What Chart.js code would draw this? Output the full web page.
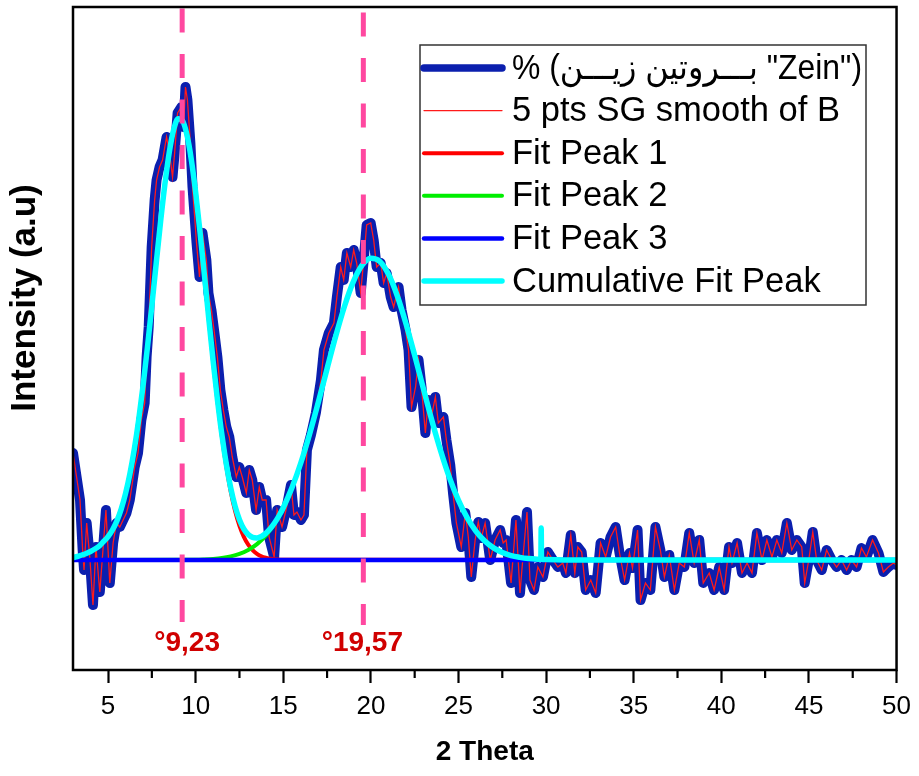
<!DOCTYPE html>
<html>
<head>
<meta charset="utf-8">
<script src="https://cdn.jsdelivr.net/npm/chart.js@4.4.1/dist/chart.umd.min.js"></script>
<style>
  html, body { margin: 0; padding: 0; background: #ffffff; }
  #wrap { width: 919px; height: 776px; }
</style>
</head>
<body>
<div id="wrap"><canvas id="xrd" width="919" height="776"></canvas></div>
<script>
// Measured diffraction pattern (2θ in degrees, intensity in arbitrary units)
const twoTheta = [
  3.00, 3.40, 3.55, 3.63, 3.78, 3.97, 4.14, 4.31, 4.53, 4.88,
  5.10, 5.29, 5.48, 5.67, 5.86, 6.05, 6.24, 6.52, 6.71, 6.90,
  7.09, 7.20, 7.32, 7.49, 7.66, 7.77, 7.94, 8.11, 8.34, 8.51,
  8.68, 8.80, 8.97, 9.19, 9.31, 9.42, 9.53, 9.70, 9.82, 10.05,
  10.22, 10.39, 10.61, 10.73, 10.90, 11.07, 11.24, 11.41, 11.58, 11.75,
  11.92, 12.09, 12.32, 12.49, 12.66, 12.89, 13.06, 13.23, 13.45, 13.63,
  13.80, 14.02, 14.19, 14.48, 14.65, 14.93, 15.22, 15.44, 15.61, 15.78,
  16.01, 16.18, 16.35, 16.58, 16.86, 17.15, 17.32, 17.60, 17.89, 18.06,
  18.28, 18.45, 18.63, 18.85, 19.02, 19.19, 19.42, 19.59, 19.76, 19.99,
  20.16, 20.33, 20.56, 20.73, 20.90, 21.13, 21.30, 21.58, 21.75, 21.98,
  22.15, 22.32, 22.55, 22.72, 22.89, 23.11, 23.28, 23.45, 23.68, 23.85,
  24.14, 24.31, 24.53, 24.70, 24.88, 25.16, 25.39, 25.56, 25.73, 25.95,
  26.13, 26.30, 26.52, 26.81, 27.09, 27.38, 27.55, 27.72, 28.00, 28.28,
  28.51, 28.68, 28.91, 29.08, 29.31, 29.53, 29.82, 30.10, 30.39, 30.67,
  30.95, 31.13, 31.41, 31.64, 31.81, 32.03, 32.26, 32.55, 32.83, 33.11,
  33.40, 33.68, 33.97, 34.19, 34.48, 34.76, 34.93, 35.22, 35.39, 35.67,
  35.95, 36.24, 36.52, 36.75, 37.03, 37.32, 37.60, 37.89, 38.17, 38.45,
  38.74, 38.97, 39.31, 39.59, 39.88, 40.16, 40.44, 40.61, 40.90, 41.18,
  41.47, 41.75, 42.03, 42.32, 42.60, 42.89, 43.17, 43.45, 43.74, 44.02,
  44.31, 44.59, 44.76, 44.99, 45.22, 45.44, 45.73, 46.01, 46.30, 46.58,
  46.86, 47.15, 47.43, 47.72, 48.00, 48.28, 48.63, 48.97, 49.25, 49.53,
  49.82, 50.00
];
const intensity = [
  107, 60, 10, -10, 37, 0, -45, 13, -32, 50,
  -23, 17, 37, 33, 40, 47, 60, 93, 107, 140,
  157, 203, 233, 313, 360, 380, 393, 400, 423, 407,
  383, 407, 447, 453, 433, 473, 460, 417, 373, 317,
  283, 327, 300, 267, 250, 227, 203, 170, 150, 133,
  123, 103, 83, 93, 83, 67, 90, 80, 50, 73,
  60, 60, 23, 3, 50, 33, 55, 75, 45, 48,
  40, 45, 110, 125, 147, 180, 210, 227, 237, 263,
  293, 280, 307, 293, 310, 297, 267, 300, 335, 337,
  320, 293, 297, 277, 287, 263, 253, 273, 250, 230,
  210, 153, 173, 200, 173, 127, 160, 143, 163, 137,
  143, 120, 95, 65, 37, 13, 47, 23, -17, 20,
  38, 22, 37, 0, 20, 30, 17, 20, -23, 40,
  -33, 3, 48, -20, -30, -7, -17, 8, 0, -7,
  -3, -13, 25, -13, 13, 8, -30, -20, -33, 17,
  3, 23, 33, 7, -20, 7, -8, 30, -40, -23,
  -30, 33, 10, -17, 5, -30, -3, -7, 27, -3,
  20, -23, -13, -30, -7, -30, 13, -3, 17, -13,
  -3, -13, 27, 0, 20, 3, 20, 7, 37, 10,
  20, 13, -23, 0, 28, 0, -10, 10, 0, -7,
  0, -10, 0, -7, 12, 3, 20, 7, -12, -7,
  -3, -5
];

// Fitted component 1
const peak1Theta = [
  3.00, 3.25, 3.50, 3.75, 4.00, 4.25, 4.50, 4.75, 5.00, 5.25,
  5.50, 5.75, 6.00, 6.25, 6.50, 6.75, 7.00, 7.25, 7.50, 7.75,
  8.00, 8.25, 8.50, 8.75, 9.00, 9.25, 9.50, 9.75, 10.00, 10.25,
  10.50, 10.75, 11.00, 11.25, 11.50, 11.75, 12.00, 12.25, 12.50, 12.75,
  13.00, 13.25, 13.50, 13.75, 14.00, 14.25, 14.50, 14.75, 15.00, 50.00
];
const peak1Values = [
  2.5, 3.5, 5, 6.5, 8.5, 11, 14, 18.6, 23.4, 30,
  38.9, 50.9, 66.6, 86.4, 111, 140.4, 174.6, 213, 254.3, 296.9,
  338.6, 376.7, 408.4, 430.7, 441.3, 439.2, 425.3, 400.7, 367.3, 327.6,
  284.3, 240.2, 197.4, 157.8, 122.8, 93, 68.5, 49.1, 34.2, 23.2,
  15.4, 9.9, 6.2, 3.7, 2.2, 1.3, 0.7, 0.4, 0.2, 0
];

// Fitted component 2
const peak2Theta = [
  3.0, 10.0, 10.5, 11.0, 11.5, 12.0, 12.5, 13.0, 13.5, 14.0,
  14.5, 15.0, 15.5, 16.0, 16.5, 17.0, 17.5, 18.0, 18.5, 19.0,
  19.5, 20.0, 20.5, 21.0, 21.5, 22.0, 22.5, 23.0, 23.5, 24.0,
  24.5, 25.0, 25.5, 26.0, 26.5, 27.0, 27.5, 28.0, 28.5, 29.0,
  29.5, 30.0, 31.0, 32.0, 50.0
];
const peak2Values = [
  0, 0.3, 0.6, 1.1, 2.0, 3.6, 6.1, 10.0, 15.9, 24.4,
  36.3, 52.1, 72.3, 97.0, 125.8, 157.7, 191.3, 224.2, 254.0, 278.3,
  294.8, 301.8, 298.8, 285.9, 264.5, 236.6, 204.6, 171.1, 138.3, 108.1,
  81.6, 59.6, 42.1, 28.7, 19.0, 12.1, 7.5, 4.4, 2.6, 1.4,
  0.8, 0.4, 0.1, 0, 0
];

// Fitted component 3 (flat)
const peak3Theta = [3, 50];
const peak3Values = [0, 0];

// Cumulative fit
const cumulativeTheta = [
  3.00, 3.25, 3.50, 3.75, 4.00, 4.25, 4.50, 4.75, 5.00, 5.25,
  5.50, 5.75, 6.00, 6.25, 6.50, 6.75, 7.00, 7.25, 7.50, 7.75,
  8.00, 8.25, 8.50, 8.75, 9.00, 9.25, 9.50, 9.75, 10.00, 10.25,
  10.50, 10.75, 11.00, 11.25, 11.50, 11.75, 12.00, 12.25, 12.50, 12.75,
  13.00, 13.25, 13.50, 13.75, 14.00, 14.25, 14.50, 14.75, 15.00, 15.5,
  16.0, 16.5, 17.0, 17.5, 18.0, 18.5, 19.0, 19.5, 20.0, 20.5,
  21.0, 21.5, 22.0, 22.5, 23.0, 23.5, 24.0, 24.5, 25.0, 25.5,
  26.0, 26.5, 27.0, 27.5, 28.0, 28.5, 29.0, 29.5, 29.70, 29.72,
  29.74, 30.0, 31.0, 32.0, 50.0
];
const cumulativeValues = [
  2.5, 3.5, 5, 6.5, 8.5, 11, 14, 18.6, 23.4, 30,
  38.9, 50.9, 66.6, 86.4, 111, 140.4, 174.6, 213, 254.3, 296.9,
  338.6, 376.7, 408.4, 430.7, 441.3, 439.2, 425.3, 400.7, 367.6, 328,
  284.9, 241, 198.5, 159.3, 124.8, 95.7, 72.1, 53.8, 40.3, 31,
  25.4, 22.6, 22.1, 23.5, 26.6, 31.2, 37, 44, 52.3, 72.4,
  97, 125.8, 157.7, 191.3, 224.2, 254, 278.3, 294.8, 301.8, 298.8,
  285.9, 264.5, 236.6, 204.6, 171.1, 138.3, 108.1, 81.6, 59.6, 42.1,
  28.7, 19, 12.1, 7.5, 4.4, 2.6, 1.4, 0.8, 0.7, 32,
  0.7, 0.4, 0.1, 0, 0
];

// Axis and annotation text
const xTicks = [5, 10, 15, 20, 25, 30, 35, 40, 45, 50];
const xMinorTicks = [7.5, 12.5, 17.5, 22.5, 27.5, 32.5, 37.5, 42.5, 47.5];
const peakPositions = [9.23, 19.57];
const peakLabels = ['°9,23', '°19,57'];
const seriesLabels = [
  '% (بـــروتين زيـــن "Zein")',
  '5 pts SG smooth of B',
  'Fit Peak 1',
  'Fit Peak 2',
  'Fit Peak 3',
  'Cumulative Fit Peak'
];
const xTitle = '2 Theta';
const yTitle = 'Intensity (a.u)';

const FONT = '"Liberation Sans", Arial, Helvetica, "DejaVu Sans", sans-serif';
const toPoints = (xs, ys) => xs.map((x, i) => ({ x: x, y: ys[i] }));

// Frame, minor ticks, peak labels, legend box and vertical axis title
const decorations = {
  id: 'decorations',
  afterDatasetsDraw(chart) {
    const { ctx, chartArea: a, scales: { x } } = chart;
    ctx.save();

    ctx.strokeStyle = '#000';
    ctx.lineWidth = 2.2;
    xMinorTicks.forEach(v => {
      const px = x.getPixelForValue(v);
      ctx.beginPath();
      ctx.moveTo(px, a.bottom);
      ctx.lineTo(px, a.bottom + 8);
      ctx.stroke();
    });

    ctx.lineWidth = 2.5;
    ctx.strokeRect(a.left, a.top, a.right - a.left, a.bottom - a.top);

    ctx.fillStyle = '#d00000';
    ctx.font = 'bold 28px ' + FONT;
    ctx.textAlign = 'center';
    ctx.textBaseline = 'middle';
    const labelNudge = [5, -1];
    peakPositions.forEach((p, i) => {
      ctx.fillText(peakLabels[i], x.getPixelForValue(p) + labelNudge[i], a.bottom - 27);
    });

    // legend
    const box = { left: 420, top: 45, width: 446, height: 260 };
    ctx.fillStyle = '#ffffff';
    ctx.fillRect(box.left, box.top, box.width, box.height);
    ctx.strokeStyle = '#333333';
    ctx.lineWidth = 1.5;
    ctx.strokeRect(box.left, box.top, box.width, box.height);
    ctx.font = '34.5px ' + FONT;
    ctx.textAlign = 'left';
    ctx.textBaseline = 'middle';
    ctx.direction = 'ltr';
    for (let i = 0; i < seriesLabels.length; i++) {
      const ds = chart.data.datasets[i];
      const rowY = 68 + i * 42.6;
      ctx.strokeStyle = ds.borderColor;
      ctx.lineWidth = ds.legendWidth || ds.borderWidth;
      ctx.lineCap = 'round';
      ctx.beginPath();
      ctx.moveTo(424, rowY);
      ctx.lineTo(502, rowY);
      ctx.stroke();
      ctx.fillStyle = '#000';
      ctx.fillText(ds.label, 512, rowY + 1, 350);
    }

    ctx.translate(25, 298);
    ctx.rotate(-Math.PI / 2);
    ctx.font = 'bold 35px ' + FONT;
    ctx.fillStyle = '#000';
    ctx.textAlign = 'center';
    ctx.textBaseline = 'middle';
    ctx.fillText(yTitle, 0, 0);
    ctx.restore();
  }
};

const markerLine = (pos, top, bottom) => ({
  label: '',
  data: [{ x: pos, y: top }, { x: pos, y: bottom }],
  borderColor: '#ff48a0',
  borderWidth: 5,
  borderDash: [24, 21.5],
  borderCapStyle: 'butt',
  order: 1
});

new Chart(document.getElementById('xrd'), {
  type: 'line',
  data: {
    datasets: [
      {
        label: seriesLabels[0],
        data: toPoints(twoTheta, intensity),
        borderColor: '#0b1fae',
        borderWidth: 10,
        legendWidth: 7.5,
        borderJoinStyle: 'round',
        borderCapStyle: 'round',
        tension: 0,
        order: 8
      },
      {
        label: seriesLabels[1],
        data: toPoints(twoTheta, intensity),
        borderColor: '#ff1a1a',
        borderWidth: 1.3,
        tension: 0,
        order: 7
      },
      {
        label: seriesLabels[2],
        data: toPoints(peak1Theta, peak1Values),
        borderColor: '#ff0000',
        borderWidth: 4,
        cubicInterpolationMode: 'monotone',
        order: 6
      },
      {
        label: seriesLabels[3],
        data: toPoints(peak2Theta, peak2Values),
        borderColor: '#00ee00',
        borderWidth: 4,
        cubicInterpolationMode: 'monotone',
        order: 5
      },
      {
        label: seriesLabels[4],
        data: toPoints(peak3Theta, peak3Values),
        borderColor: '#0000ff',
        borderWidth: 4.5,
        order: 4
      },
      {
        label: seriesLabels[5],
        data: toPoints(cumulativeTheta, cumulativeValues),
        borderColor: '#00ffff',
        borderWidth: 5.5,
        cubicInterpolationMode: 'monotone',
        order: 3
      },
      markerLine(peakPositions[0], 551.5, -62),
      markerLine(peakPositions[1], 547.5, -65)
    ]
  },
  options: {
    responsive: false,
    devicePixelRatio: 1,
    animation: false,
    events: [],
    layout: { padding: { top: 7, right: 19, left: 73, bottom: 0 } },
    elements: { point: { radius: 0, hoverRadius: 0 } },
    plugins: { legend: { display: false }, tooltip: { enabled: false } },
    scales: {
      x: {
        type: 'linear',
        min: 3,
        max: 50,
        afterBuildTicks: scale => { scale.ticks = xTicks.map(v => ({ value: v })); },
        afterFit: scale => { scale.height = 106; },
        ticks: {
          font: { family: FONT, size: 26 },
          color: '#000',
          padding: 8,
          autoSkip: false,
          maxRotation: 0
        },
        grid: {
          display: true,
          drawOnChartArea: false,
          drawTicks: true,
          tickLength: 13,
          tickWidth: 2.2,
          tickColor: '#000',
          color: '#000'
        },
        border: { display: false },
        title: {
          display: true,
          text: xTitle,
          color: '#000',
          font: { family: FONT, size: 28, weight: 'bold' },
          padding: { top: 0, bottom: 7 }
        }
      },
      y: {
        display: false,
        min: -110,
        max: 553
      }
    }
  },
  plugins: [decorations]
});
</script>
</body>
</html>
